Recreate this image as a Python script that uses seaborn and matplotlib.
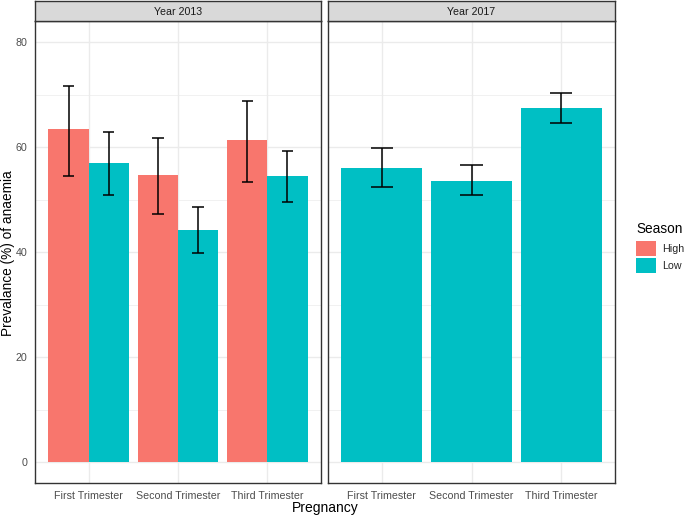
import numpy as np
import pandas as pd
import matplotlib
matplotlib.use("Agg")
import matplotlib.pyplot as plt
from matplotlib.patches import Rectangle
import seaborn as sns

years = ["Year 2013", "Year 2017"]
trimesters = ["First Trimester", "Second Trimester", "Third Trimester"]
seasons = ["High", "Low"]

# Year 2013
prev_2013_high = [63.4, 54.6, 61.3]
lo_2013_high = [54.4, 47.3, 53.4]
hi_2013_high = [71.6, 61.8, 68.7]
prev_2013_low = [56.9, 44.2, 54.4]
lo_2013_low = [50.9, 39.9, 49.5]
hi_2013_low = [62.9, 48.5, 59.3]
# Year 2017 (Low season only)
prev_2017_low = [56.0, 53.6, 67.4]
lo_2017_low = [52.3, 50.9, 64.5]
hi_2017_low = [59.8, 56.5, 70.2]

rows = []
for tri, p, l, h in zip(trimesters, prev_2013_high, lo_2013_high, hi_2013_high):
    rows.append(dict(Year=years[0], Pregnancy=tri, Season="High", Prev=p, Lo=l, Hi=h))
for tri, p, l, h in zip(trimesters, prev_2013_low, lo_2013_low, hi_2013_low):
    rows.append(dict(Year=years[0], Pregnancy=tri, Season="Low", Prev=p, Lo=l, Hi=h))
for tri, p, l, h in zip(trimesters, prev_2017_low, lo_2017_low, hi_2017_low):
    rows.append(dict(Year=years[1], Pregnancy=tri, Season="Low", Prev=p, Lo=l, Hi=h))
df = pd.DataFrame(rows)

palette = {"High": "#F8766D", "Low": "#00BFC4"}

sns.set_style("white")
plt.rcParams["font.family"] = ["Liberation Sans", "DejaVu Sans"]

W, H = 685, 516
fig = plt.figure(figsize=(W / 100, H / 100), dpi=100)

def fx(px):
    return px / W

def fy(py):
    return 1 - py / H

small = 7.7
panel_top, panel_bot = 21, 483
strip_top = 1
panels = [(35, 321), (328, 615)]

border = "#333333"
axes = []
for i, (year, (x0, x1)) in enumerate(zip(years, panels)):
    ax = fig.add_axes([fx(x0), fy(panel_bot), fx(x1 - x0), fy(panel_top) - fy(panel_bot)])
    axes.append(ax)
    sub = df[df["Year"] == year]
    hue_order = [s for s in seasons if s in set(sub["Season"])]
    sns.barplot(data=sub, x="Pregnancy", y="Prev", hue="Season", order=trimesters,
                hue_order=hue_order, palette=palette, width=0.9, errorbar=None,
                saturation=1, linewidth=0, legend=False, ax=ax, zorder=2)
    # error bars from bar geometry
    for hue, cont in zip(hue_order, ax.containers):
        for bar in cont:
            w = bar.get_width()
            xc = bar.get_x() + w / 2
            cat = trimesters[int(round(xc))]
            r = sub[(sub["Season"] == hue) & (sub["Pregnancy"] == cat)].iloc[0]
            cw = 0.28 * w
            ax.vlines(xc, r["Lo"], r["Hi"], color="black", lw=1.1, zorder=3)
            ax.hlines([r["Lo"], r["Hi"]], xc - cw / 2, xc + cw / 2, color="black", lw=1.1, zorder=3)
    ax.set_xlim(-0.6, 2.6)
    ax.set_ylim(-4.0, 84.0)
    ax.set_yticks([0, 20, 40, 60, 80])
    ax.set_yticks([10, 30, 50, 70], minor=True)
    ax.grid(True, which="major", color="#EBEBEB", lw=1.0, zorder=0)
    ax.grid(True, which="minor", axis="y", color="#EBEBEB", lw=0.5, zorder=0)
    ax.set_axisbelow(True)
    ax.set_xlabel("")
    ax.set_ylabel("")
    for s in ax.spines.values():
        s.set_color(border)
        s.set_linewidth(1.0)
        s.set_visible(True)
    ax.tick_params(axis="both", which="major", length=3.5, width=0.8, color=border,
                   labelcolor="#4D4D4D", labelsize=small, pad=2)
    ax.tick_params(axis="both", which="minor", length=0)
    if i > 0:
        ax.tick_params(axis="y", which="both", left=False, labelleft=False)
    # strip
    sax = fig.add_axes([fx(x0), fy(panel_top), fx(x1 - x0), fy(strip_top) - fy(panel_top)])
    sax.set_facecolor("#D9D9D9")
    sax.set_xticks([])
    sax.set_yticks([])
    for s in sax.spines.values():
        s.set_color(border)
        s.set_linewidth(1.0)
    sax.text(0.5, 0.45, year, ha="center", va="center", fontsize=small, color="#1A1A1A",
             transform=sax.transAxes)

fig.text(fx(325), fy(508), "Pregnancy", ha="center", va="center", fontsize=10, color="black")
fig.text(fx(8), fy(253), "Prevalance (%) of anaemia", ha="center", va="center",
         rotation=90, fontsize=9.8, color="black")

fig.text(fx(636), fy(229), "Season", ha="left", va="center", fontsize=9.8, color="black")
handles = [Rectangle((0, 0), 1, 1, facecolor=palette[s], edgecolor="none") for s in seasons]
leg = fig.legend(handles, seasons, loc="upper left",
                 bbox_to_anchor=(fx(636), fy(241)), frameon=False, fontsize=small,
                 handlelength=1.85, handleheight=1.85,
                 labelspacing=0.12, handletextpad=0.55, borderaxespad=0, borderpad=0)

fig.savefig("out.png", dpi=100)
